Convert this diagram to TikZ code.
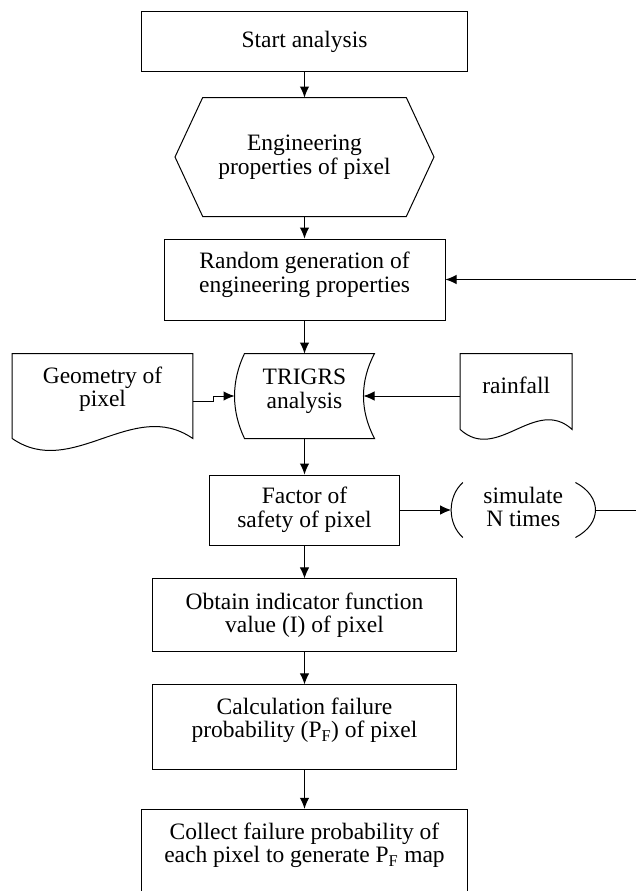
\documentclass[tikz,border=0pt]{standalone}
\usepackage{fontspec}
\setmainfont{Liberation Serif}
\usetikzlibrary{arrows.meta}

\begin{document}
\begin{tikzpicture}[x=1pt, y=-1pt, line width=1pt]
	\tikzset{boite/.style={draw, rectangle, inner sep=0pt, align=center, font={\fontsize{23.5}{23.5}\selectfont}}, forme/.style={boite, draw=none}, fleche/.style={>={Latex[length=11pt, width=9.5pt]}, ->}};

	\useasboundingbox (0,0) rectangle (635,891);

	\node[boite, minimum width=325.6pt, minimum height=60pt  ] (debut) at (304.5,  41.7) {Start analysis};
	\node[forme, minimum width=258pt,   minimum height=118pt ] (prop)  at (304.5, 157  ) {Engineering\\properties of pixel};
	\node[boite, minimum width=281pt,   minimum height=81pt, text depth=15pt] (gen) at (304.5, 279.5) {Random generation of\\engineering properties};
	\node[forme, minimum width=179.6pt, minimum height=84pt, text depth=19pt] (geom) at (102.5, 396) {Geometry of\\pixel};
	\node[forme, minimum width=139pt,   minimum height=84pt, text depth=15pt] (trig) at (304.5, 396) {TRIGRS\\analysis};
	\node[forme, minimum width=111pt,   minimum height=75pt, text depth=12pt] (pluie) at (516.2, 391.5) {rainfall};
	\node[boite, minimum width=190pt,   minimum height=70pt  ] (fs)    at (304.5, 510  ) {Factor of\\safety of pixel};
	\node[forme, minimum width=143.3pt, minimum height=54pt, text depth=6pt] (simu) at (523.3, 510) {simulate\\N times};
	\node[boite, minimum width=303.3pt, minimum height=72.7pt] (ind)   at (304.5, 615.3) {Obtain indicator function\\value (I) of pixel};
	\node[boite, minimum width=303.4pt, minimum height=84.3pt, text depth=19pt] (pf) at (304.5, 727) {Calculation failure\\probability (P\textsubscript{F}) of pixel};
	\node[boite, minimum width=326.3pt, minimum height=88.7pt, text depth=22pt] (carte) at (304.5, 853.6) {Collect failure probability of\\each pixel to generate P\textsubscript{F} map};
	\coordinate (retour) at (640, 279.5);

	\draw ([xshift=27.7pt]prop.north west) -- ([xshift=-27.7pt]prop.north east) -- (prop.east) -- ([xshift=-27.7pt]prop.south east) -- ([xshift=27.7pt]prop.south west) -- (prop.west) -- cycle;
	\draw (geom.south west) -- (geom.north west) -- (geom.north east) -- (geom.south east) .. controls +(-59.9,-41.5) and +(59.9,41.5) .. (geom.south west);
	\draw (pluie.south west) -- (pluie.north west) -- (pluie.north east) -- (pluie.south east) .. controls +(-37,-33.7) and +(37,33.7) .. (pluie.south west);
	\draw ([xshift=10pt]trig.north west) -- (trig.north east) .. controls +(-14.7,28) and +(-14.7,-28) .. (trig.south east) -- ([xshift=10pt]trig.south west) .. controls +(-13.3,-28) and +(-13.3,28) .. ([xshift=10pt]trig.north west) -- cycle;
	\draw ([xshift=11.7pt]simu.north west) .. controls +(-15.6,14) and +(-15.6,-14) .. ([xshift=11.7pt]simu.south west);
	\draw ([xshift=-20pt]simu.north east) .. controls +(26.7,14) and +(26.7,-14) .. ([xshift=-20pt]simu.south east);

	\draw[fleche] (debut) -- (prop);
	\draw[fleche] (prop) -- (gen);
	\draw[fleche] (gen) -- (trig);
	\draw[fleche] (trig) -- (fs);
	\draw[fleche] (fs) -- (ind);
	\draw[fleche] (ind) -- (pf);
	\draw[fleche] (pf) -- (carte);
	\draw[fleche] ([yshift=-5.7pt]geom.east) -- ++(20.7,0) |- (trig.west);
	\draw[fleche] (pluie.west |- trig.east) -- ([xshift=-11pt]trig.east);
	\draw[fleche] (fs) -- (simu);
	\draw[fleche] (simu.east) -| (retour) -- (gen.east);

\end{tikzpicture}
\end{document}
